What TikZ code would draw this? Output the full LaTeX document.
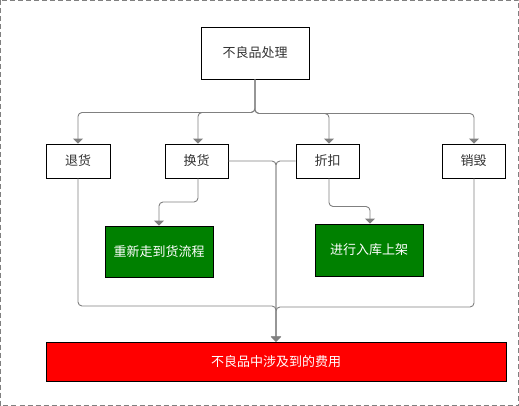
\documentclass[tikz,border=0pt]{standalone}
\usepackage{fontspec}
\setmainfont{Noto Sans CJK SC}
\usetikzlibrary{arrows.meta}
\definecolor{edgegray}{HTML}{808080}
\definecolor{txtgray}{HTML}{333333}
\definecolor{gbox}{HTML}{008000}
\begin{document}
\begin{tikzpicture}[x=1pt,y=-1pt,
  box/.style={draw=black,line width=0.8pt,fill=white,text=txtgray,font=\fontsize{13}{15}\selectfont,inner sep=0pt},
  gnode/.style={box,fill=gbox,text=white},
  rnode/.style={box,fill=red,text=white},
  conn/.style={draw=edgegray,line width=0.9pt,rounded corners=4pt},
  arr/.style={conn,-{Triangle[width=10pt,length=5pt]}}
]
\draw[edgegray,line width=0.9pt,dash pattern=on 5pt off 3pt] (0.5,0.5) rectangle (518.5,405.5);
\useasboundingbox (0,0) rectangle (519,406);

\node[box,minimum width=108pt,minimum height=52pt] (top) at (255,53) {不良品处理};
\node[box,minimum width=64pt,minimum height=34pt] (tui) at (78,161) {退货};
\node[box,minimum width=63pt,minimum height=34pt] (huan) at (196.5,161) {换货};
\node[box,minimum width=63pt,minimum height=34pt] (zhe) at (327.5,161) {折扣};
\node[box,minimum width=63pt,minimum height=34pt] (xiao) at (473.5,161) {销毁};
\node[gnode,minimum width=108pt,minimum height=51pt] (g1) at (159,251.5) {重新走到货流程};
\node[gnode,minimum width=108pt,minimum height=52pt] (g2) at (369,250) {进行入库上架};
\node[rnode,minimum width=460pt,minimum height=39pt] (red) at (276,361.5) {不良品中涉及到的费用};

\draw[arr] (top.south) |- (78,112.5) -- (tui.north);
\draw[arr] (top.south) |- (198,112.5) -- (huan.north -| 198,0);
\draw[arr] (top.south) |- (329,113.5) -- (zhe.north -| 329,0);
\draw[arr] (top.south) |- (474,113.5) -- (xiao.north -| 474,0);

\draw[arr] (huan.south -| 198,0) |- (159,202) -- (g1.north);
\draw[arr] (zhe.south -| 329,0) |- (370,206.5) -- (g2.north -| 370,0);

\draw[arr] (tui.south) |- (276,306) -- (red.north -| 276,0);
\draw[arr] (xiao.south -| 474,0) |- (276,307) -- (red.north -| 276,0);
\draw[arr] (huan.east) -| (red.north -| 276,0);
\draw[arr] (zhe.west) -| (red.north -| 276,0);
\end{tikzpicture}
\end{document}
